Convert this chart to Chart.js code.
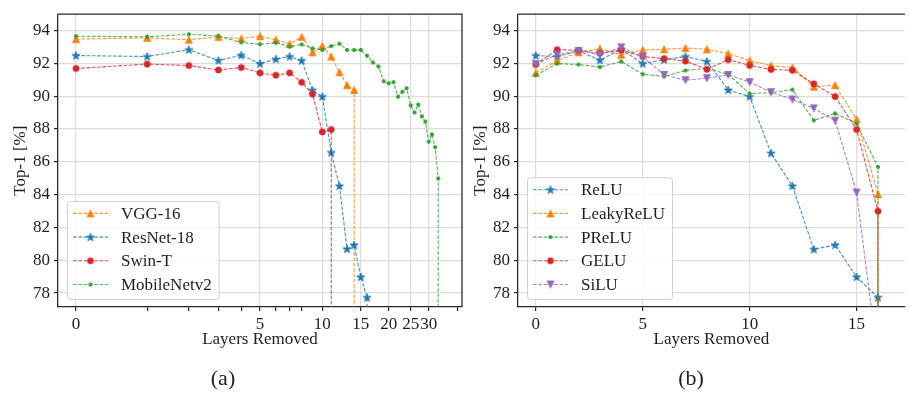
<!DOCTYPE html>
<html>
<head>
<meta charset="utf-8">
<script src="https://cdn.jsdelivr.net/npm/chart.js@4.4.1/dist/chart.umd.min.js"></script>
<style>
  html, body { margin: 0; padding: 0; background: #fff; overflow: hidden; }
  body { width: 910px; height: 396px; position: relative; font-family: "Liberation Serif", serif; }
  .panel { position: absolute; top: 0; height: 396px; }
  #left { left: 0; width: 470px; }
  #right { left: 460px; width: 450px; }
  .caption { position: absolute; top: 365px; font-size: 22px; color: #222; transform: translateX(-50%); }
</style>
</head>
<body>
<div class="panel" id="left"><canvas id="chartA"></canvas></div>
<div class="panel" id="right"><canvas id="chartB"></canvas></div>
<div class="caption" style="left:223px">(a)</div>
<div class="caption" style="left:691px">(b)</div>
<script>
// Top-1 accuracy per number of removed layers (index = layers removed)
// every run ends by collapsing to chance level at its last layer count
const collapse = 10;

const vgg16 = [93.48, 93.56, 93.44, 93.62, 93.52, 93.66, 93.44, 93.18, 93.62, 92.68, 93.06, 92.42, 91.46, 90.67, 90.38];
const resnet18 = [92.48, 92.42, 92.84, 92.18, 92.50, 91.99, 92.26, 92.42, 92.17, 90.37, 89.98, 86.57, 84.53, 80.69, 80.93, 78.98, 77.73];
const swinT = [91.69, 91.96, 91.87, 91.60, 91.75, 91.42, 91.28, 91.42, 90.85, 90.13, 87.82, 87.97];
const mobilenetV2 = [93.66, 93.62, 93.78, 93.66, 93.28, 93.17, 93.26, 93.02, 93.16, 92.92, 92.82, 93.06, 93.20, 92.82, 92.82, 92.82,
  92.47, 92.06, 91.81, 90.91, 90.79, 90.86, 89.97, 90.27, 90.49, 89.44, 89.01, 89.49, 88.77, 88.45, 87.23, 87.67, 86.89, 84.99];

const relu = [92.48, 92.42, 92.76, 92.20, 92.86, 91.99, 92.23, 92.42, 92.12, 90.38, 89.98, 86.53, 84.53, 80.67, 80.93, 78.98, 77.73];
const leakyRelu = [91.42, 92.17, 92.68, 92.90, 92.53, 92.82, 92.86, 92.94, 92.86, 92.60, 92.17, 91.87, 91.75, 90.58, 90.68, 88.59, 84.03];
const prelu = [91.28, 91.99, 91.93, 91.78, 92.12, 91.34, 91.21, 91.57, 91.70, 91.33, 90.16, 90.22, 90.40, 88.53, 88.95, 88.33, 85.69];
const gelu = [91.93, 92.84, 92.80, 92.62, 92.82, 92.42, 92.29, 92.14, 91.64, 92.23, 91.88, 91.63, 91.58, 90.76, 89.98, 87.97, 82.99];
const silu = [91.96, 92.53, 92.76, 92.53, 92.98, 92.41, 91.30, 90.98, 91.10, 91.30, 90.86, 90.25, 89.80, 89.26, 88.51, 84.13, 73.9];

const leftMajor = [0, 5, 10, 15, 20, 25, 30];
const leftMinor = [1, 2, 3, 4, 6, 7, 8, 40];
const rightMajor = [0, 5, 10, 15];
const yTicks = [78, 80, 82, 84, 86, 88, 90, 92, 94];

const colors = { blue: '#1f77b4', orange: '#ff7f0e', green: '#2ca02c', red: '#d62728', purple: '#9467bd' };
const spine = '#262626';
const gridColor = '#dddddd';
const textColor = '#1e1e1e';
const font = { family: '"Liberation Serif", serif', size: 17 };

// matplotlib-like markers as small canvases
function marker(shape, color) {
  const s = 12, c = s / 2;
  const cv = document.createElement('canvas');
  cv.width = s; cv.height = s;
  const g = cv.getContext('2d');
  g.fillStyle = color; g.strokeStyle = color; g.lineWidth = 0.8;
  g.beginPath();
  if (shape === 'circle') {
    g.arc(c, c, 3.1, 0, Math.PI * 2);
  } else if (shape === 'dot') {
    g.arc(c, c, 1.7, 0, Math.PI * 2);
  } else if (shape === 'up') {
    const r = 3.5;
    g.moveTo(c, c - r); g.lineTo(c + r, c + r); g.lineTo(c - r, c + r); g.closePath();
  } else if (shape === 'down') {
    const r = 3.5;
    g.moveTo(c, c + r); g.lineTo(c + r, c - r); g.lineTo(c - r, c - r); g.closePath();
  } else if (shape === 'star') {
    const ro = 4.3, ri = ro * 0.382;
    for (let k = 0; k < 10; k++) {
      const r = k % 2 ? ri : ro;
      const a = -Math.PI / 2 + k * Math.PI / 5;
      const px = c + r * Math.cos(a), py = c + 0.3 + r * Math.sin(a);
      k ? g.lineTo(px, py) : g.moveTo(px, py);
    }
    g.closePath();
  }
  g.fill(); g.stroke();
  return cv;
}

function fade(hex, a) {
  const n = parseInt(hex.slice(1), 16);
  return `rgba(${n >> 16}, ${(n >> 8) & 255}, ${n & 255}, ${a})`;
}

function logX(n) { return Math.log(n + 1); }

function series(label, values, color, shape, i, xf) {
  const pts = values.map((v, k) => ({ x: xf(k), y: v }));
  pts.push({ x: xf(values.length - 1), y: collapse });
  return {
    label, data: pts,
    borderColor: fade(color, 0.8), borderWidth: 1.1, borderDash: [3.7, 1.6],
    backgroundColor: color, pointStyle: marker(shape, color), pointRadius: 4,
    tension: 0, order: -i
  };
}

const frame = {
  id: 'frame',
  afterDatasetsDraw(chart, args, opts) {
    const { ctx, chartArea: a } = chart;
    ctx.save();
    ctx.strokeStyle = spine; ctx.lineWidth = 1.25;
    ctx.beginPath();
    ctx.moveTo(a.left, a.top); ctx.lineTo(a.right, a.top);
    if (opts.right) { ctx.lineTo(a.right, a.bottom); }
    ctx.stroke();
    ctx.restore();
  }
};

const insetLegend = {
  id: 'insetLegend',
  afterDatasetsDraw(chart) {
    const { ctx, chartArea } = chart;
    const sets = chart.data.datasets;
    ctx.save();
    ctx.font = '17px "Liberation Serif"';
    const textW = Math.max(...sets.map(d => ctx.measureText(d.label).width));
    const rowH = 23.7;
    const w = 54 + textW + 7;
    const h = 27 + (sets.length - 1) * rowH;
    const x0 = chartArea.left + 9, y0 = chartArea.bottom - 8 - h;
    ctx.beginPath();
    ctx.roundRect(x0 + 0.5, y0 + 0.5, w, h, 3);
    ctx.fillStyle = 'rgba(255,255,255,0.8)'; ctx.fill();
    ctx.strokeStyle = '#d0d0d0'; ctx.lineWidth = 1; ctx.stroke();
    sets.forEach((d, i) => {
      const y = y0 + 12.5 + i * rowH;
      ctx.setLineDash(d.borderDash);
      ctx.strokeStyle = d.borderColor; ctx.lineWidth = d.borderWidth;
      ctx.beginPath(); ctx.moveTo(x0 + 6, y); ctx.lineTo(x0 + 41, y); ctx.stroke();
      ctx.setLineDash([]);
      ctx.drawImage(d.pointStyle, x0 + 23.5 - 6, y - 6);
      ctx.fillStyle = textColor; ctx.textBaseline = 'middle';
      ctx.fillText(d.label, x0 + 54, y + 1);
    });
    ctx.restore();
  }
};

function yScale() {
  return {
    min: 77.15, max: 95, bounds: 'data',
    afterBuildTicks: s => { s.ticks = yTicks.map(v => ({ value: v })); },
    afterFit: s => { s.width = 58; },
    grid: { color: gridColor, lineWidth: 1.2, tickLength: 4, tickColor: spine, tickWidth: 1.2 },
    border: { color: spine, width: 1.25 },
    ticks: { color: textColor, font, padding: 4 },
    title: { display: true, text: 'Top-1 [%]', color: textColor, font, padding: { top: 10, bottom: 0 } }
  };
}

function xBase() {
  return {
    type: 'linear', bounds: 'data',
    afterFit: s => { s.height = 44; },
    grid: {
      color: c => (c.tick && c.tick.minor ? 'rgba(0,0,0,0)' : gridColor),
      lineWidth: 1.2, tickLength: 4, tickColor: spine, tickWidth: 1.2
    },
    border: { color: spine, width: 1.25 },
    ticks: { color: textColor, font, padding: 3, autoSkip: false, maxRotation: 0, minRotation: 0 },
    title: { display: true, text: 'Layers Removed', color: textColor, font, padding: { top: 0, bottom: 1 } }
  };
}

const common = {
  responsive: true, maintainAspectRatio: false, animation: false, events: [],
  plugins: { legend: { display: false }, tooltip: { enabled: false } }
};

// (a) architectures, x on a log(1 + n) axis
const xA = xBase();
xA.min = -0.175; xA.max = 3.758;
xA.afterBuildTicks = s => {
  s.ticks = leftMajor.map(n => ({ value: logX(n), n, minor: false }))
    .concat(leftMinor.map(n => ({ value: logX(n), n, minor: true })))
    .sort((a, b) => a.value - b.value);
};
xA.ticks.callback = (v, i, t) => (t[i].minor ? '' : String(t[i].n));

new Chart(document.getElementById('chartA'), {
  type: 'line',
  data: {
    datasets: [
      series('VGG-16', vgg16, colors.orange, 'up', 0, logX),
      series('ResNet-18', resnet18, colors.blue, 'star', 1, logX),
      series('Swin-T', swinT, colors.red, 'circle', 2, logX),
      series('MobileNetv2', mobilenetV2, colors.green, 'dot', 3, logX)
    ]
  },
  options: {
    ...common,
    layout: { padding: { left: 0, right: 8, top: 6, bottom: 45 } },
    plugins: { ...common.plugins, frame: { right: true } },
    scales: { x: xA, y: yScale() }
  },
  plugins: [frame, insetLegend]
});

// (b) activation functions, linear x
const xB = xBase();
xB.min = -0.83; xB.max = 17.26;
xB.afterBuildTicks = s => { s.ticks = rightMajor.map(n => ({ value: n })); };

const lin = k => k;
new Chart(document.getElementById('chartB'), {
  type: 'line',
  data: {
    datasets: [
      series('ReLU', relu, colors.blue, 'star', 0, lin),
      series('LeakyReLU', leakyRelu, colors.orange, 'up', 1, lin),
      series('PReLU', prelu, colors.green, 'dot', 2, lin),
      series('GELU', gelu, colors.red, 'circle', 3, lin),
      series('SiLU', silu, colors.purple, 'down', 4, lin)
    ]
  },
  options: {
    ...common,
    layout: { padding: { left: 0, right: 0, top: 6, bottom: 45 } },
    plugins: { ...common.plugins, frame: { right: false } },
    scales: { x: xB, y: yScale() }
  },
  plugins: [frame, insetLegend]
});
</script>
</body>
</html>
